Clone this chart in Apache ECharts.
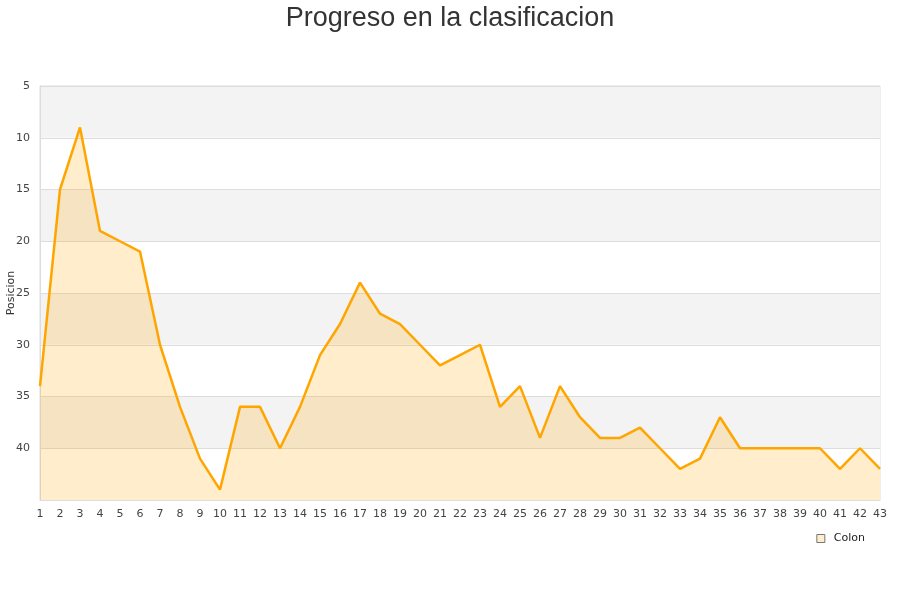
<!DOCTYPE html>
<html><head><meta charset="utf-8">
<script src="https://cdn.jsdelivr.net/npm/echarts@6/dist/echarts.min.js"></script>
<style>html,body{margin:0;padding:0;background:#fff}#c{width:900px;height:600px}</style>
</head><body><div id="c"></div>
<script>
var jornadas = [];
for (var i = 1; i <= 43; i++) jornadas.push(String(i));
var posiciones = [34,15,9,19,20,21,30,36,41,44,36,36,40,36,31,28,24,27,28,30,32,31,30,36,34,39,34,37,39,39,38,40,42,41,37,40,40,40,40,40,42,40,42];
var serieNombre = 'Colon';
var titulo = 'Progreso en la clasificacion';
var ejeY = 'Posicion';

var chart = echarts.init(document.getElementById('c'));
chart.setOption({
  animation: false,
  title: { text: titulo, left: 'center', top: 0, textStyle: { fontFamily: 'Liberation Sans, Arial, sans-serif', fontSize: 27, fontWeight: 'normal', color: '#333' } },
  grid: { left: 40, right: 20, top: 86, bottom: 100, outerBoundsMode: 'none', containLabel: false, show: true, borderColor: '#ddd', borderWidth: 1, backgroundColor: 'transparent' },
  legend: { data: [serieNombre], right: 30, top: 528, icon: 'rect', itemWidth: 8, itemHeight: 8, itemGap: 6,
    itemStyle: { color: '#FFEDCC', borderColor: '#777', borderWidth: 1 },
    textStyle: { fontFamily: 'DejaVu Sans', fontSize: 11, color: '#222', padding: [0, 0, 0, 4] } },
  xAxis: { type: 'category', data: jornadas, boundaryGap: false,
    axisLine: { lineStyle: { color: '#ddd' } }, axisTick: { show: false },
    axisLabel: { fontFamily: 'DejaVu Sans', fontSize: 11, color: '#444', margin: 9, interval: 0 },
    splitLine: { show: false } },
  yAxis: { type: 'value', inverse: true, min: 5, max: 45, interval: 5,
    name: ejeY, nameLocation: 'middle', nameGap: 23, nameRotate: 90, nameMoveOverlap: false,
    nameTextStyle: { fontFamily: 'DejaVu Sans', fontSize: 11, color: '#333' },
    axisLine: { show: true, lineStyle: { color: '#ddd' } }, axisTick: { show: false },
    axisLabel: { fontFamily: 'DejaVu Sans', fontSize: 11, color: '#444', margin: 10, showMaxLabel: false,
      formatter: function (v) { return v === 45 ? '' : v; } },
    splitLine: { show: true, lineStyle: { color: '#ddd' } },
    splitArea: { show: true, areaStyle: { color: ['#f3f3f3', '#ffffff'] } } },
  series: [{ name: serieNombre, type: 'line', data: posiciones, symbol: 'none',
    lineStyle: { color: '#FFA500', width: 2.5 },
    itemStyle: { color: '#FFEDCC', borderColor: '#777', borderWidth: 1 },
    areaStyle: { color: 'rgba(255,165,0,0.2)', opacity: 1, origin: 'end' } }]
});
</script></body></html>
